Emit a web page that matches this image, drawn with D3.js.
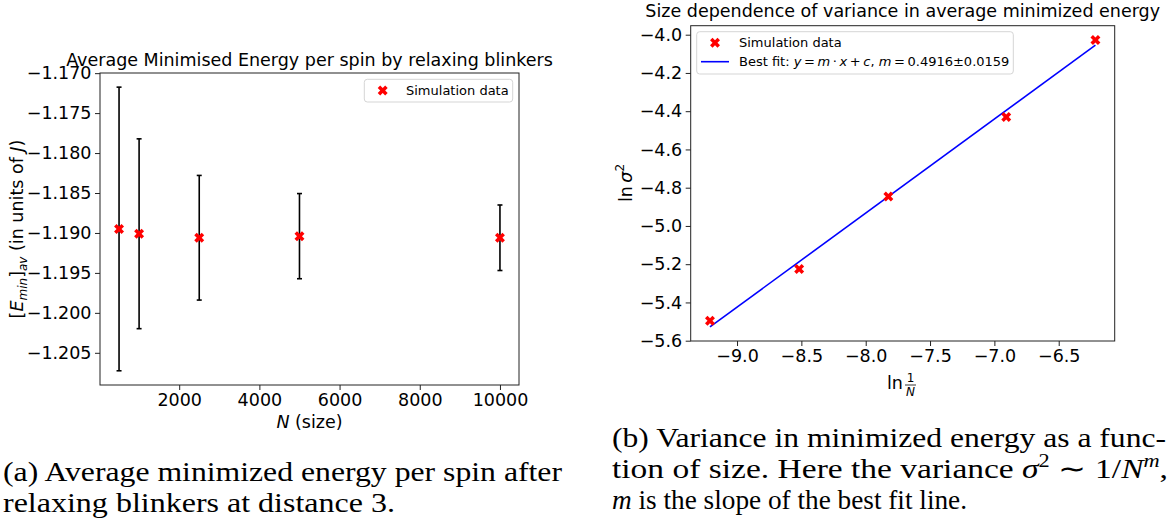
<!DOCTYPE html>
<html>
<head>
<meta charset="utf-8">
<script src="https://cdn.jsdelivr.net/npm/d3@7"></script>
<style>
body { margin: 0; background: #fff; }
svg text { font-family: "DejaVu Sans", sans-serif; fill: #000; }
.cap { font-family: "Liberation Serif", serif; font-size: 27px; }
</style>
</head>
<body>
<svg id="fig" width="1169" height="525"></svg>
<script>
// (a) mean minimised energy per spin vs size
var sizes = [500, 1000, 2500, 5000, 10000];
var meanEnergy = [-1.1895, -1.1901, -1.1906, -1.1904, -1.1906];
var energyErr = [0.01775, 0.01188, 0.0078, 0.00533, 0.0041];
var energyTicks = [-1.170, -1.175, -1.180, -1.185, -1.190, -1.195, -1.200, -1.205];
var sizeTicks = [2000, 4000, 6000, 8000, 10000];

// (b) ln variance vs ln(1/N)
var lnInvN = [-9.2103, -8.5172, -7.8240, -6.9078, -6.2146];
var lnVar = [-5.4956, -5.2256, -4.846, -4.430, -4.028];
var fitSlope = 0.4916, fitIntercept = -1.0;
var lnVarTicks = [-4.0, -4.2, -4.4, -4.6, -4.8, -5.0, -5.2, -5.4, -5.6];
var lnInvNTicks = [-9.0, -8.5, -8.0, -7.5, -7.0, -6.5];

var FS = 17.5; // main font size (ticks, titles, axis labels)

var svg = d3.select("#fig");
var cross = d3.symbol().type(d3.symbolCross).size(62);

function frame(x, y) {
  var r = x.range(), s = y.range();
  svg.append("rect")
    .attr("x", r[0]).attr("y", s[1])
    .attr("width", r[1] - r[0]).attr("height", s[0] - s[1])
    .attr("fill", "none").attr("stroke", "#222").attr("stroke-width", 1);
}

function axes(x, y, xt, yt, xf, yf) {
  var gx = svg.append("g")
    .attr("transform", "translate(0," + y.range()[0] + ")")
    .call(d3.axisBottom(x).tickValues(xt).tickSize(5).tickPadding(4).tickFormat(xf));
  var gy = svg.append("g")
    .attr("transform", "translate(" + x.range()[0] + ",0)")
    .call(d3.axisLeft(y).tickValues(yt).tickSize(5).tickPadding(3.5).tickFormat(yf));
  [gx, gy].forEach(function(g) {
    g.attr("font-size", FS).attr("font-family", "DejaVu Sans");
    g.select(".domain").remove();
    g.selectAll(".tick line").attr("stroke", "#222");
  });
}

// ---------- panel (a) ----------
var xa = d3.scaleLinear().domain([25, 10475]).range([100, 519]);
var ya = d3.scaleLinear().domain([-1.20903, -1.16998]).range([385, 73]);

var pts = sizes.map(function(n, i) {
  return {n: n, m: meanEnergy[i], e: energyErr[i]};
});

var bars = svg.append("g").attr("stroke", "#000").attr("stroke-width", 1.6);
pts.forEach(function(d) {
  bars.append("line")
    .attr("x1", xa(d.n)).attr("x2", xa(d.n))
    .attr("y1", ya(d.m - d.e)).attr("y2", ya(d.m + d.e));
  [d.m - d.e, d.m + d.e].forEach(function(v) {
    bars.append("line")
      .attr("x1", xa(d.n) - 2.5).attr("x2", xa(d.n) + 2.5)
      .attr("y1", ya(v)).attr("y2", ya(v));
  });
});

svg.append("g").selectAll("path").data(pts).enter().append("path")
  .attr("d", cross)
  .attr("fill", "#ff0000")
  .attr("transform", function(d) {
    return "translate(" + xa(d.n) + "," + ya(d.m) + ") rotate(45)";
  });

frame(xa, ya);
axes(xa, ya, sizeTicks, energyTicks, d3.format("d"), d3.format(".3f"));

svg.append("text")
  .attr("x", 309.5).attr("y", 66).attr("text-anchor", "middle")
  .attr("font-size", FS)
  .text("Average Minimised Energy per spin by relaxing blinkers");

var xla = svg.append("text")
  .attr("x", 309.5).attr("y", 428).attr("text-anchor", "middle")
  .attr("font-size", FS);
xla.append("tspan").attr("font-style", "italic").text("N");
xla.append("tspan").text(" (size)");

var yla = svg.append("text")
  .attr("transform", "translate(23,229) rotate(-90)")
  .attr("text-anchor", "middle").attr("font-size", FS);
yla.append("tspan").text("[");
yla.append("tspan").attr("font-style", "italic").text("E");
yla.append("tspan").attr("font-style", "italic").attr("font-size", 12).attr("dy", 4).text("min");
yla.append("tspan").attr("dy", -4).text("]");
yla.append("tspan").attr("font-style", "italic").attr("font-size", 12).attr("dy", 4).text("av");
yla.append("tspan").attr("dy", -4).text(" (in units of ");
yla.append("tspan").attr("font-style", "italic").text("J");
yla.append("tspan").text(")");

// legend (a)
svg.append("rect")
  .attr("x", 364.3).attr("y", 79.3).attr("width", 148.4).attr("height", 22.7)
  .attr("rx", 3).attr("fill", "#fff").attr("fill-opacity", 0.8)
  .attr("stroke", "#d5d5d5");
svg.append("path").attr("d", cross).attr("fill", "#ff0000")
  .attr("transform", "translate(382.7,90.5) rotate(45)");
svg.append("text").attr("x", 406).attr("y", 95).attr("font-size", 13)
  .text("Simulation data");

// ---------- panel (b) ----------
var xb = d3.scaleLinear().domain([-9.3601, -6.0649]).range([690.7, 1114.7]);
var yb = d3.scaleLinear().domain([-5.6016, -3.9530]).range([341, 25.7]);

var ext = d3.extent(lnInvN);
var fitLine = d3.line()
  .x(function(d) { return xb(d); })
  .y(function(d) { return yb(fitSlope * d + fitIntercept); });
svg.append("path")
  .attr("d", fitLine(ext))
  .attr("fill", "none").attr("stroke", "#0000ff").attr("stroke-width", 1.6);

svg.append("g").selectAll("path").data(lnInvN).enter().append("path")
  .attr("d", cross)
  .attr("fill", "#ff0000")
  .attr("transform", function(d, i) {
    return "translate(" + xb(d) + "," + yb(lnVar[i]) + ") rotate(45)";
  });

frame(xb, yb);
axes(xb, yb, lnInvNTicks, lnVarTicks, d3.format(".1f"), d3.format(".1f"));

svg.append("text")
  .attr("x", 902.7).attr("y", 17.3).attr("text-anchor", "middle")
  .attr("font-size", FS)
  .text("Size dependence of variance in average minimized energy");

var ylb = svg.append("text")
  .attr("transform", "translate(632,183) rotate(-90)")
  .attr("text-anchor", "middle").attr("font-size", FS);
ylb.append("tspan").text("ln\u2009");
ylb.append("tspan").attr("font-style", "italic").text("σ");
ylb.append("tspan").attr("font-size", 12).attr("dy", -8).text("2");

// x label (b): ln 1/N
var xlb = svg.append("g").attr("font-size", FS);
xlb.append("text").attr("x", 887).attr("y", 389).text("ln");
xlb.append("text").attr("x", 910.5).attr("y", 382).attr("text-anchor", "middle")
  .attr("font-size", 12).text("1");
xlb.append("line").attr("x1", 905).attr("x2", 916).attr("y1", 385).attr("y2", 385)
  .attr("stroke", "#000").attr("stroke-width", 0.8);
xlb.append("text").attr("x", 910.5).attr("y", 396).attr("text-anchor", "middle")
  .attr("font-size", 12).attr("font-style", "italic").text("N");

// legend (b)
svg.append("rect")
  .attr("x", 696.7).attr("y", 31.7).attr("width", 316.6).attr("height", 42.3)
  .attr("rx", 3).attr("fill", "#fff").attr("fill-opacity", 0.8)
  .attr("stroke", "#d5d5d5");
svg.append("path").attr("d", cross).attr("fill", "#ff0000")
  .attr("transform", "translate(715,42.7) rotate(45)");
svg.append("line").attr("x1", 701).attr("x2", 729).attr("y1", 61.7).attr("y2", 61.7)
  .attr("stroke", "#0000ff").attr("stroke-width", 1.6);
svg.append("text").attr("x", 739).attr("y", 47.3).attr("font-size", 13)
  .text("Simulation data");
var lg = svg.append("text").attr("x", 739).attr("y", 66.3).attr("font-size", 13);
var th = "\u2009";
lg.append("tspan").text("Best fit: ");
lg.append("tspan").attr("font-style", "italic").text("y");
lg.append("tspan").text(th + "=" + th);
lg.append("tspan").attr("font-style", "italic").text("m");
lg.append("tspan").text(th + "·" + th);
lg.append("tspan").attr("font-style", "italic").text("x");
lg.append("tspan").text(th + "+" + th);
lg.append("tspan").attr("font-style", "italic").text("c");
lg.append("tspan").text(", ");
lg.append("tspan").attr("font-style", "italic").text("m");
lg.append("tspan").text(th + "=" + th + "0.4916±0.0159");

// ---------- captions ----------
function capLine(x, y, w, parts) {
  var t = svg.append("text").attr("class", "cap").attr("x", x).attr("y", y);
  if (w) t.attr("textLength", w).attr("lengthAdjust", "spacingAndGlyphs");
  parts.forEach(function(p) {
    var s = t.append("tspan").text(p.t);
    if (p.i) s.attr("font-style", "italic");
    if (p.sup) s.attr("font-size", 18).attr("dy", -11);
    if (p.down) s.attr("dy", 11);
  });
  return t;
}
capLine(3, 481, 559, [{t: "(a) Average minimized energy per spin after"}]);
capLine(3, 512, 392, [{t: "relaxing blinkers at distance 3."}]);
capLine(612, 447, 554, [{t: "(b) Variance in minimized energy as a func-"}]);
capLine(612, 478, 556, [
  {t: "tion of size.  Here the variance "}, {t: "σ", i: 1}, {t: "2", sup: 1},
  {t: " ∼ 1/", down: 1}, {t: "N", i: 1}, {t: "m", i: 1, sup: 1}, {t: ",", down: 1}
]);
capLine(612, 509, 355, [{t: "m", i: 1}, {t: " is the slope of the best fit line."}]);
</script>
</body>
</html>
